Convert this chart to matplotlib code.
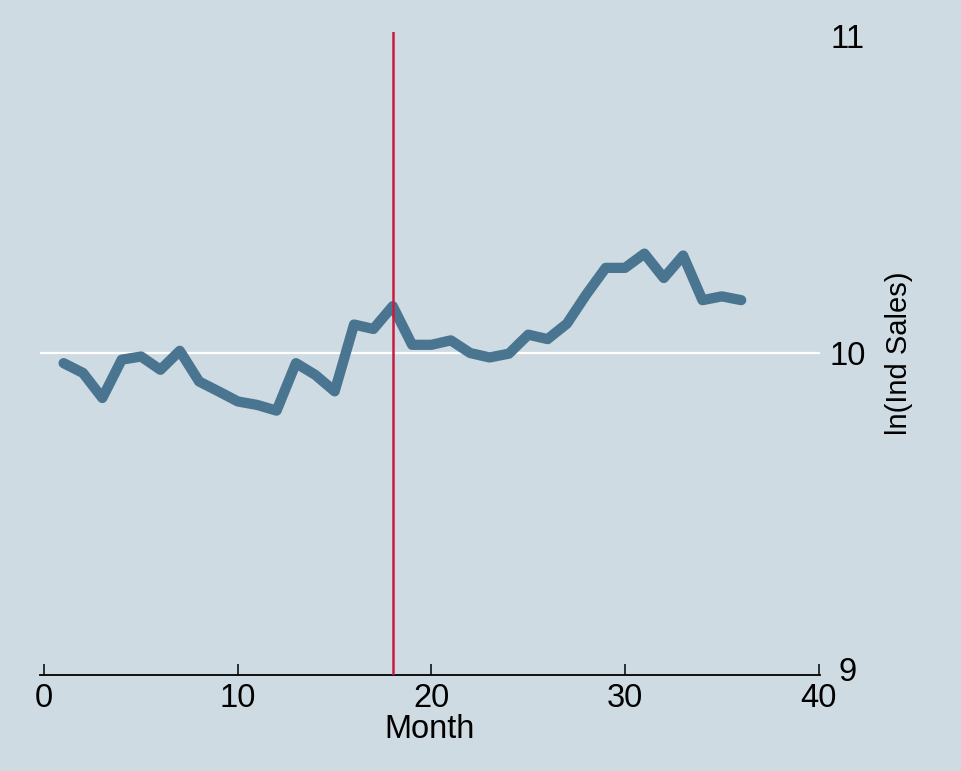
import numpy as np
import matplotlib
matplotlib.use("Agg")
import matplotlib.pyplot as plt

# monthly log sales series
month = list(range(1, 37))
ln_sales = [9.967, 9.936, 9.857, 9.978, 9.988, 9.946, 10.006, 9.909, 9.878, 9.846,
            9.835, 9.817, 9.967, 9.930, 9.878, 10.089, 10.075, 10.147, 10.025, 10.025,
            10.039, 9.999, 9.985, 9.997, 10.057, 10.043, 10.092, 10.184, 10.268, 10.268,
            10.313, 10.236, 10.307, 10.166, 10.178, 10.166]
event_month = 18
ref_level = 10
xticks = [0, 10, 20, 30, 40]
yticks = [9, 10, 11]

bg = "#cfdbe3"
plt.rcParams['font.family'] = ['Liberation Sans', 'DejaVu Sans']

fig = plt.figure(figsize=(9.62, 7.71), dpi=100, facecolor=bg)
ax = fig.add_axes([40 / 962, (771 - 675) / 771, 780 / 962, (675 - 32) / 771])
ax.set_facecolor(bg)

ax.axhline(ref_level, color="white", lw=1.6, zorder=1)
ax.plot(month, ln_sales, color="#4a7590", lw=7.4, solid_capstyle="round",
        solid_joinstyle="round", zorder=2)
ax.axvline(event_month, color="#cc1a3e", lw=1.8, zorder=3)

ax.set_xlim(-0.22, 40.07)
ax.set_ylim(8.982, 11.013)

for s in ["top", "left", "right"]:
    ax.spines[s].set_visible(False)
ax.spines["bottom"].set_linewidth(1.3)

ax.set_xticks(xticks)
ax.set_xticklabels([str(t) for t in xticks])
ax.tick_params(axis="x", direction="in", length=8, width=1.1, pad=6, labelsize=23.5)

ax.yaxis.tick_right()
ax.yaxis.set_label_position("right")
ax.set_yticks(yticks)
ax.set_yticklabels([str(t) for t in yticks])
ax.tick_params(axis="y", length=0, pad=20, labelsize=23.5)
for lab in ax.get_yticklabels():
    lab.set_horizontalalignment("center")

ax.set_xlabel("Month", fontsize=23.5, labelpad=0)
ax.set_ylabel("ln(Ind Sales)", fontsize=21, labelpad=14)

fig.savefig("out.png", dpi=100, facecolor=bg)
